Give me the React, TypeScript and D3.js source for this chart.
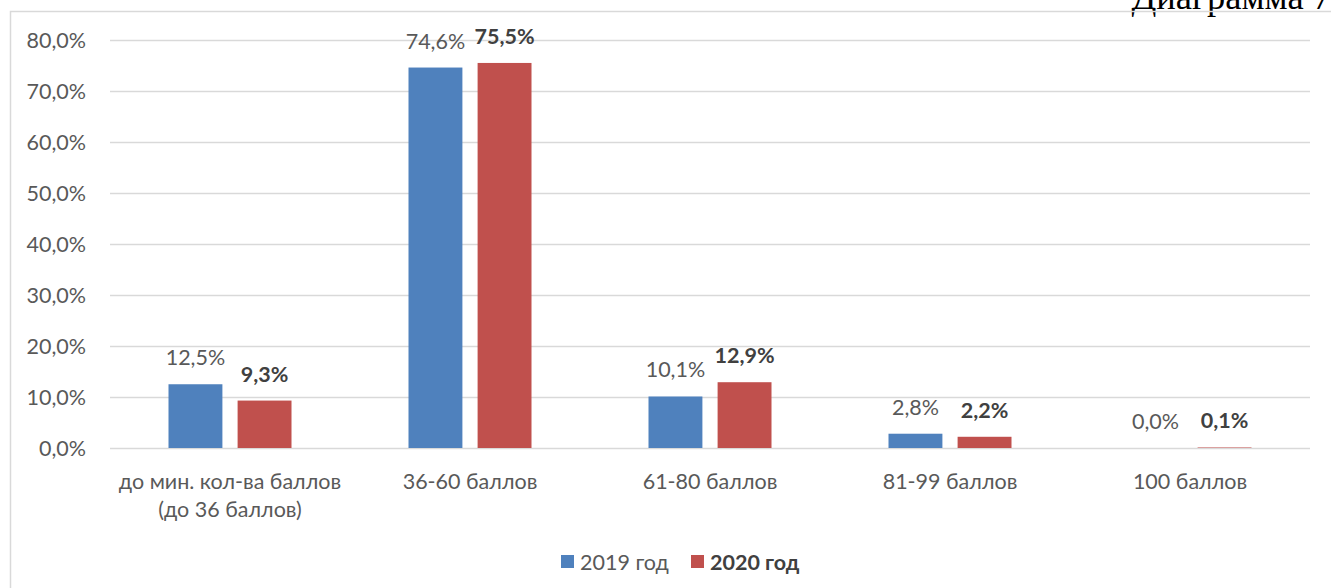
import React from "react";
import * as d3 from "d3";

const categories = [
  ["до мин. кол-ва баллов", "(до 36 баллов)"],
  ["36-60 баллов"],
  ["61-80 баллов"],
  ["81-99 баллов"],
  ["100 баллов"],
];
const seriesNames = ["2019 год", "2020 год"];
const values2019 = [12.5, 74.6, 10.1, 2.8, 0.0];
const values2020 = [9.3, 75.5, 12.9, 2.2, 0.1];
const yTicks = [0, 10, 20, 30, 40, 50, 60, 70, 80];
const colors = ["#4f81bd", "#c0504d"];

const W = 1331;
const H = 588;
const FONT = "Lato, 'Open Sans', sans-serif";
const TEXT = "#595959";
const FS = 21.5;

const fmt = (v: number) => v.toFixed(1).replace(".", ",") + "%";

export default function App() {
  const x0 = d3
    .scaleBand<number>()
    .domain(categories.map((_, i) => i))
    .range([110, 1310]);
  const x1 = d3
    .scaleBand<number>()
    .domain([0, 1])
    .range([0, 123])
    .paddingInner(0.22);
  const y = d3.scaleLinear().domain([0, 80]).range([448, 40]);
  const groupOffset = (x0.bandwidth() - 123) / 2;
  const series = [values2019, values2020];

  return (
    <svg
      width={W}
      height={H}
      style={{ position: "absolute", left: 0, top: 0, background: "#fff" }}
      fontFamily={FONT}
    >
      <rect x={0} y={0} width={W} height={H} fill="#fff" />
      <text
        x={1331}
        y={9}
        textAnchor="end"
        fontFamily="'Liberation Serif', 'Times New Roman', serif"
        fontSize={36.5}
        fill="#000"
      >
        Диаграмма 7
      </text>
      {/* chart frame */}
      <path d={`M10.5,${H + 2} V11.5 H${W + 2}`} fill="none" stroke="#d9d9d9" strokeWidth={1.5} />
      {/* gridlines */}
      {yTicks.map((t) => (
        <line
          key={t}
          x1={110}
          x2={1310}
          y1={Math.round(y(t)) + 0.5}
          y2={Math.round(y(t)) + 0.5}
          stroke="#d9d9d9"
          strokeWidth={1.5}
        />
      ))}
      {yTicks.map((t) => (
        <text
          key={"l" + t}
          x={86}
          y={y(t)}
          dy="0.35em"
          textAnchor="end"
          fontSize={FS}
          fill={TEXT}
        >
          {fmt(t)}
        </text>
      ))}
      {/* bars */}
      {series.map((vals, s) =>
        vals.map((v, i) => {
          const bx = (x0(i) as number) + groupOffset + (x1(s) as number);
          const bw = x1.bandwidth();
          return (
            <g key={`b${s}-${i}`}>
              <rect
                x={bx}
                y={y(v)}
                width={bw}
                height={y(0) - y(v)}
                fill={colors[s]}
              />
              <text
                x={bx + bw / 2}
                y={y(v) - 19}
                textAnchor="middle"
                fontSize={FS}
                fontWeight={s === 1 ? "bold" : "normal"}
                fill={s === 1 ? "#404040" : TEXT}
              >
                {fmt(v)}
              </text>
            </g>
          );
        })
      )}
      {/* category labels */}
      {categories.map((lines, i) => (
        <text
          key={"c" + i}
          x={(x0(i) as number) + x0.bandwidth() / 2}
          y={489}
          textAnchor="middle"
          fontSize={FS}
          fill={TEXT}
        >
          {lines.map((ln, k) => (
            <tspan key={k} x={(x0(i) as number) + x0.bandwidth() / 2} dy={k === 0 ? 0 : 28}>
              {ln}
            </tspan>
          ))}
        </text>
      ))}
      {/* legend */}
      {seriesNames.map((name, s) => {
        const lx = s === 0 ? 561 : 691;
        return (
          <g key={"lg" + s}>
            <rect x={lx} y={555} width={13} height={13} fill={colors[s]} />
            <text
              x={lx + 19}
              y={562}
              dy="0.35em"
              fontSize={FS}
              fontWeight={s === 1 ? "bold" : "normal"}
              fill={s === 1 ? "#404040" : TEXT}
            >
              {name}
            </text>
          </g>
        );
      })}
    </svg>
  );
}
